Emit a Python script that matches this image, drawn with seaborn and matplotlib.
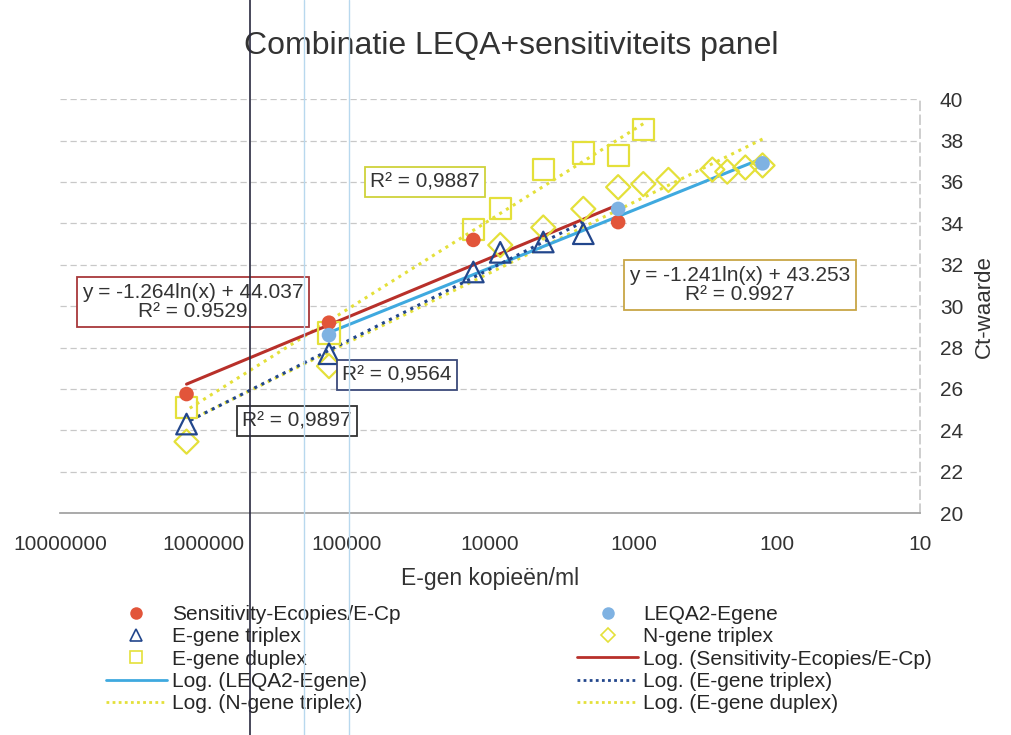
import numpy as np
import pandas as pd
import seaborn as sns
import matplotlib.pyplot as plt
from matplotlib.lines import Line2D

# values
sens_x = [1.31e6, 1.33e5, 1.31e4, 1.28e3]
sens_ct = [25.75, 29.2, 33.2, 34.06]

leqa_x = [1.33e5, 1.28e3, 126]
leqa_ct = [28.6, 34.7, 36.9]

etri_x = [1.31e6, 1.33e5, 1.31e4, 8.5e3, 4.26e3, 2.24e3]
etri_ct = [24.3, 27.7, 31.65, 32.6, 33.1, 33.5]

ntri_x = [1.31e6, 1.33e5, 8.5e3, 4.26e3, 2.24e3, 1.28e3, 855, 571, 282, 222, 166, 126]
ntri_ct = [23.45, 27.1, 32.95, 33.8, 34.7, 35.75, 35.9, 36.1, 36.6, 36.5, 36.7, 36.8]

edup_x = [1.31e6, 1.33e5, 1.31e4, 8.5e3, 4.26e3, 2.24e3, 1.28e3, 855]
edup_ct = [25.1, 28.7, 33.7, 34.7, 36.6, 37.4, 37.3, 38.55]

x_ticks = [1e7, 1e6, 1e5, 1e4, 1e3, 1e2, 1e1]
x_labels = ["10000000", "1000000", "100000", "10000", "1000", "100", "10"]
y_ticks = list(range(20, 41, 2))

red_pt = "#e2553a"
red_ln = "#b8302a"
lblue_pt = "#7fb2e2"
lblue_ln = "#3fa9df"
navy = "#22468c"
yellow = "#e4e03a"

sns.set_theme(style="white")
plt.rcParams['font.family'] = ['Liberation Sans', 'DejaVu Sans']

fig = plt.figure(figsize=(10.11, 7.35), dpi=100)
ax = fig.add_axes([0.0593, 0.302, 0.851, 0.563])


def log_fit(xs, ys):
    xs = np.array(xs)
    a, b = np.polyfit(np.log(xs), np.array(ys), 1)
    ends = np.array([xs.min(), xs.max()])
    return ends, a * np.log(ends) + b


# trend lines first, markers on top
fx, fy = log_fit(edup_x, edup_ct)
sns.lineplot(x=fx, y=fy, color=yellow, lw=2.2, ls=(0, (1, 1.6)), ax=ax)
fx, fy = log_fit(ntri_x, ntri_ct)
sns.lineplot(x=fx, y=fy, color=yellow, lw=2.2, ls=(0, (1, 1.6)), ax=ax)
fx, fy = log_fit(sens_x, sens_ct)
sns.lineplot(x=fx, y=fy, color=red_ln, lw=2.2, ax=ax)
fx, fy = log_fit(leqa_x, leqa_ct)
sns.lineplot(x=fx, y=fy, color=lblue_ln, lw=2.2, ax=ax)
fx, fy = log_fit(etri_x, etri_ct)
sns.lineplot(x=fx, y=fy, color=navy, lw=2.2, ls=(0, (1, 1.6)), ax=ax)

sns.scatterplot(x=edup_x, y=edup_ct, marker="s", s=230, facecolor="none",
                edgecolor=yellow, linewidth=1.6, ax=ax, zorder=3)
sns.scatterplot(x=ntri_x, y=ntri_ct, marker="D", s=150, facecolor="none",
                edgecolor=yellow, linewidth=1.6, ax=ax, zorder=3)
sns.scatterplot(x=etri_x, y=etri_ct, marker="^", s=220, facecolor="none",
                edgecolor=navy, linewidth=1.6, ax=ax, zorder=4)
sns.scatterplot(x=sens_x, y=sens_ct, marker="o", s=110, color=red_pt,
                edgecolor="none", ax=ax, zorder=5)
sns.scatterplot(x=leqa_x, y=leqa_ct, marker="o", s=110, color=lblue_pt,
                edgecolor="none", ax=ax, zorder=5)

ax.set_xscale("log")
ax.set_xlim(1e7, 10)
ax.set_ylim(20, 40)
ax.set_xticks(x_ticks)
ax.set_xticklabels(x_labels)
ax.minorticks_off()
ax.set_yticks(y_ticks)
ax.yaxis.tick_right()
ax.yaxis.set_label_position("right")
ax.tick_params(axis="both", labelsize=15, colors="#333333", length=0)
ax.tick_params(axis="x", pad=16)
ax.tick_params(axis="y", pad=14)
ax.grid(axis="y", color="#c8c8c8", ls=(0, (5, 3)), lw=0.9)
ax.grid(axis="x", visible=False)
for side in ["left", "top"]:
    ax.spines[side].set_visible(False)
ax.spines["bottom"].set_color("#a0a0a0")
ax.spines["right"].set_color("#c8c8c8")
ax.spines["right"].set_linestyle((0, (5, 3)))
ax.set_xlabel("E-gen kopieën/ml", fontsize=16.5, color="#333333", labelpad=9)
ax.set_ylabel("Ct-waarde", fontsize=16, color="#333333", labelpad=8)

fig.text(0.5055, 0.938, "Combinatie LEQA+sensitiviteits panel",
         ha="center", va="center", fontsize=23, color="#333333")

# trendline label boxes
def label_box(x, y, txt, ec):
    fig.text(x, y, txt, ha="center", va="center", fontsize=15, color="#333333",
             linespacing=1.05,
             bbox=dict(boxstyle="square,pad=0.25", fc="white", ec=ec, lw=1.3))

label_box(425 / 1011, 1 - 182 / 735, "R² = 0,9887", "#cfd23a")
label_box(193 / 1011, 1 - 302 / 735, "y = -1.264ln(x) + 44.037\nR² = 0.9529", "#a8383a")
label_box(397 / 1011, 1 - 375 / 735, "R² = 0,9564", "#3c4a7a")
label_box(297 / 1011, 1 - 421 / 735, "R² = 0,9897", "#333333")
label_box(740 / 1011, 1 - 285 / 735, "y = -1.241ln(x) + 43.253\nR² = 0.9927", "#c8a646")

handles = [
    Line2D([], [], ls="none", marker="o", ms=9, mfc=red_pt, mec="none"),
    Line2D([], [], ls="none", marker="^", ms=9, mfc="none", mec=navy, mew=1.2),
    Line2D([], [], ls="none", marker="s", ms=9, mfc="none", mec=yellow, mew=1.2),
    Line2D([], [], color=lblue_ln, lw=2),
    Line2D([], [], color=yellow, lw=2, ls=(0, (1, 1.2))),
    Line2D([], [], ls="none", marker="o", ms=9, mfc=lblue_pt, mec="none"),
    Line2D([], [], ls="none", marker="D", ms=7, mfc="none", mec=yellow, mew=1.2),
    Line2D([], [], color=red_ln, lw=2),
    Line2D([], [], color=navy, lw=2, ls=(0, (1, 1.2))),
    Line2D([], [], color=yellow, lw=2, ls=(0, (1, 1.2))),
]
labels = [
    "Sensitivity-Ecopies/E-Cp", "E-gene triplex", "E-gene duplex",
    "Log. (LEQA2-Egene)", "Log. (N-gene triplex)",
    "LEQA2-Egene", "N-gene triplex", "Log. (Sensitivity-Ecopies/E-Cp)",
    "Log. (E-gene triplex)", "Log. (E-gene duplex)",
]
fig.legend(handles, labels, ncol=2, loc="upper left", bbox_to_anchor=(0.105, 0.177),
           frameon=False, fontsize=15, handlelength=2.9, columnspacing=8.5,
           labelspacing=0.16, handletextpad=0.25, borderaxespad=0, borderpad=0)

# scan artefacts: vertical lines through the page
for xp, col, lw in [(250, "#2a2a40", 1.2), (304, "#b8d8ee", 1.0), (349, "#b8d8ee", 1.0)]:
    fig.add_artist(Line2D([xp / 1011, xp / 1011], [0, 1], transform=fig.transFigure,
                          color=col, lw=lw, zorder=10))

fig.savefig("out.png", dpi=100, facecolor="white")
